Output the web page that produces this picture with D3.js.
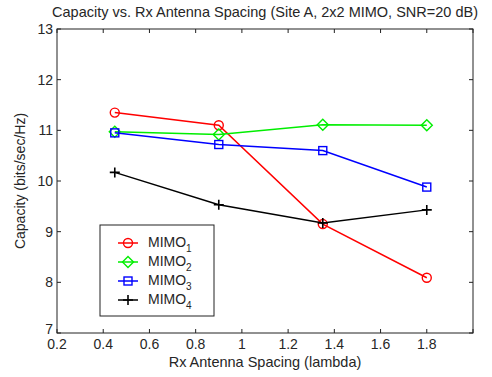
<!DOCTYPE html>
<html>
<head>
<meta charset="utf-8">
<script src="https://cdn.jsdelivr.net/npm/d3@7"></script>
<style>
  body { margin: 0; background: #fff; }
  text { font-family: "Liberation Sans", Arial, sans-serif; fill: #262626; }
</style>
</head>
<body>
<svg id="chart"></svg>
<script>
var spacing = [0.45, 0.9, 1.35, 1.8];
var mimo1 = [11.35, 11.1, 9.15, 8.09];
var mimo2 = [10.97, 10.92, 11.11, 11.1];
var mimo3 = [10.95, 10.72, 10.6, 9.88];
var mimo4 = [10.17, 9.53, 9.17, 9.43];
var seriesNames = ["1", "2", "3", "4"];
var xTicks = [0.2, 0.4, 0.6, 0.8, 1, 1.2, 1.4, 1.6, 1.8];
var yTicks = [7, 8, 9, 10, 11, 12, 13];

var width = 492, height = 377;
var margin = { top: 29, right: 19, bottom: 44, left: 57 };
var w = width - margin.left - margin.right;
var h = height - margin.top - margin.bottom;

var svg = d3.select("#chart").attr("width", width).attr("height", height);
var g = svg.append("g").attr("transform", "translate(" + margin.left + "," + margin.top + ")");

var x = d3.scaleLinear().domain([0.2, 2.0]).range([0, w]);
var y = d3.scaleLinear().domain([7, 13]).range([h, 0]);

// box
g.append("rect").attr("width", w).attr("height", h)
  .attr("fill", "none").attr("stroke", "#222").attr("stroke-width", 1);

var tickLen = 4;
var xTicksAll = xTicks.concat([2.0]);
// inward ticks on all sides
xTicksAll.forEach(function (t) {
  g.append("line").attr("x1", x(t)).attr("x2", x(t)).attr("y1", h).attr("y2", h - tickLen).attr("stroke", "#222");
  g.append("line").attr("x1", x(t)).attr("x2", x(t)).attr("y1", 0).attr("y2", tickLen).attr("stroke", "#222");
});
yTicks.forEach(function (t) {
  g.append("line").attr("x1", 0).attr("x2", tickLen).attr("y1", y(t)).attr("y2", y(t)).attr("stroke", "#222");
  g.append("line").attr("x1", w).attr("x2", w - tickLen).attr("y1", y(t)).attr("y2", y(t)).attr("stroke", "#222");
});

g.selectAll(".xt").data(xTicks).enter().append("text")
  .attr("x", function (d) { return x(d); })
  .attr("y", h + 16)
  .attr("text-anchor", "middle")
  .style("font-size", "14px")
  .text(function (d) { return d3.format("")(d); });

g.selectAll(".yt").data(yTicks).enter().append("text")
  .attr("x", -4)
  .attr("y", function (d) { return y(d) + (d === 7 ? 1 : 5); })
  .attr("text-anchor", "end")
  .style("font-size", "14px")
  .text(function (d) { return d; });

svg.append("text")
  .attr("x", margin.left + w / 2).attr("y", 17)
  .attr("text-anchor", "middle").style("font-size", "14.5px")
  .text("Capacity vs. Rx Antenna Spacing (Site A, 2x2 MIMO, SNR=20 dB)");

svg.append("text")
  .attr("x", margin.left + w / 2).attr("y", 367)
  .attr("text-anchor", "middle").style("font-size", "14.5px")
  .text("Rx Antenna Spacing (lambda)");

svg.append("text")
  .attr("transform", "translate(25," + (margin.top + h / 2) + ") rotate(-90)")
  .attr("text-anchor", "middle").style("font-size", "14px")
  .text("Capacity (bits/sec/Hz)");

var series = [
  { vals: mimo1, color: "#ff0000", marker: "circle" },
  { vals: mimo2, color: "#00ee00", marker: "diamond" },
  { vals: mimo3, color: "#0000ff", marker: "square" },
  { vals: mimo4, color: "#000000", marker: "plus" }
];

function drawMarker(sel, type, cx, cy, color) {
  if (type === "circle") {
    sel.append("circle").attr("cx", cx).attr("cy", cy).attr("r", 4.5)
      .attr("fill", "none").attr("stroke", color).attr("stroke-width", 1.4);
  } else if (type === "diamond") {
    var s = 5.5;
    sel.append("path").attr("d", "M" + cx + "," + (cy - s) + "L" + (cx + s) + "," + cy + "L" + cx + "," + (cy + s) + "L" + (cx - s) + "," + cy + "Z")
      .attr("fill", "none").attr("stroke", color).attr("stroke-width", 1.4);
  } else if (type === "square") {
    sel.append("rect").attr("x", cx - 4).attr("y", cy - 4).attr("width", 8).attr("height", 8)
      .attr("fill", "none").attr("stroke", color).attr("stroke-width", 1.4);
  } else {
    var p = 5;
    sel.append("path").attr("d", "M" + (cx - p) + "," + cy + "L" + (cx + p) + "," + cy + "M" + cx + "," + (cy - p) + "L" + cx + "," + (cy + p))
      .attr("fill", "none").attr("stroke", color).attr("stroke-width", 1.6);
  }
}

var line = d3.line()
  .x(function (d, i) { return x(spacing[i]); })
  .y(function (d) { return y(d); });

series.forEach(function (s) {
  g.append("path").attr("d", line(s.vals)).attr("fill", "none")
    .attr("stroke", s.color).attr("stroke-width", 1.5);
  s.vals.forEach(function (v, i) {
    drawMarker(g, s.marker, x(spacing[i]), y(v), s.color);
  });
});

// legend
var lg = svg.append("g").attr("transform", "translate(100,225)");
lg.append("rect").attr("width", 114).attr("height", 91)
  .attr("fill", "#fff").attr("stroke", "#222").attr("stroke-width", 1);
series.forEach(function (s, i) {
  var ly = 18 + i * 19;
  lg.append("line").attr("x1", 18).attr("x2", 38).attr("y1", ly).attr("y2", ly)
    .attr("stroke", s.color).attr("stroke-width", 1.5);
  drawMarker(lg, s.marker, 28, ly, s.color);
  var t = lg.append("text").attr("x", 48).attr("y", ly + 4).style("font-size", "14px");
  t.append("tspan").text("MIMO");
  t.append("tspan").attr("dy", 5).style("font-size", "10px").text(seriesNames[i]);
});
</script>
</body>
</html>
